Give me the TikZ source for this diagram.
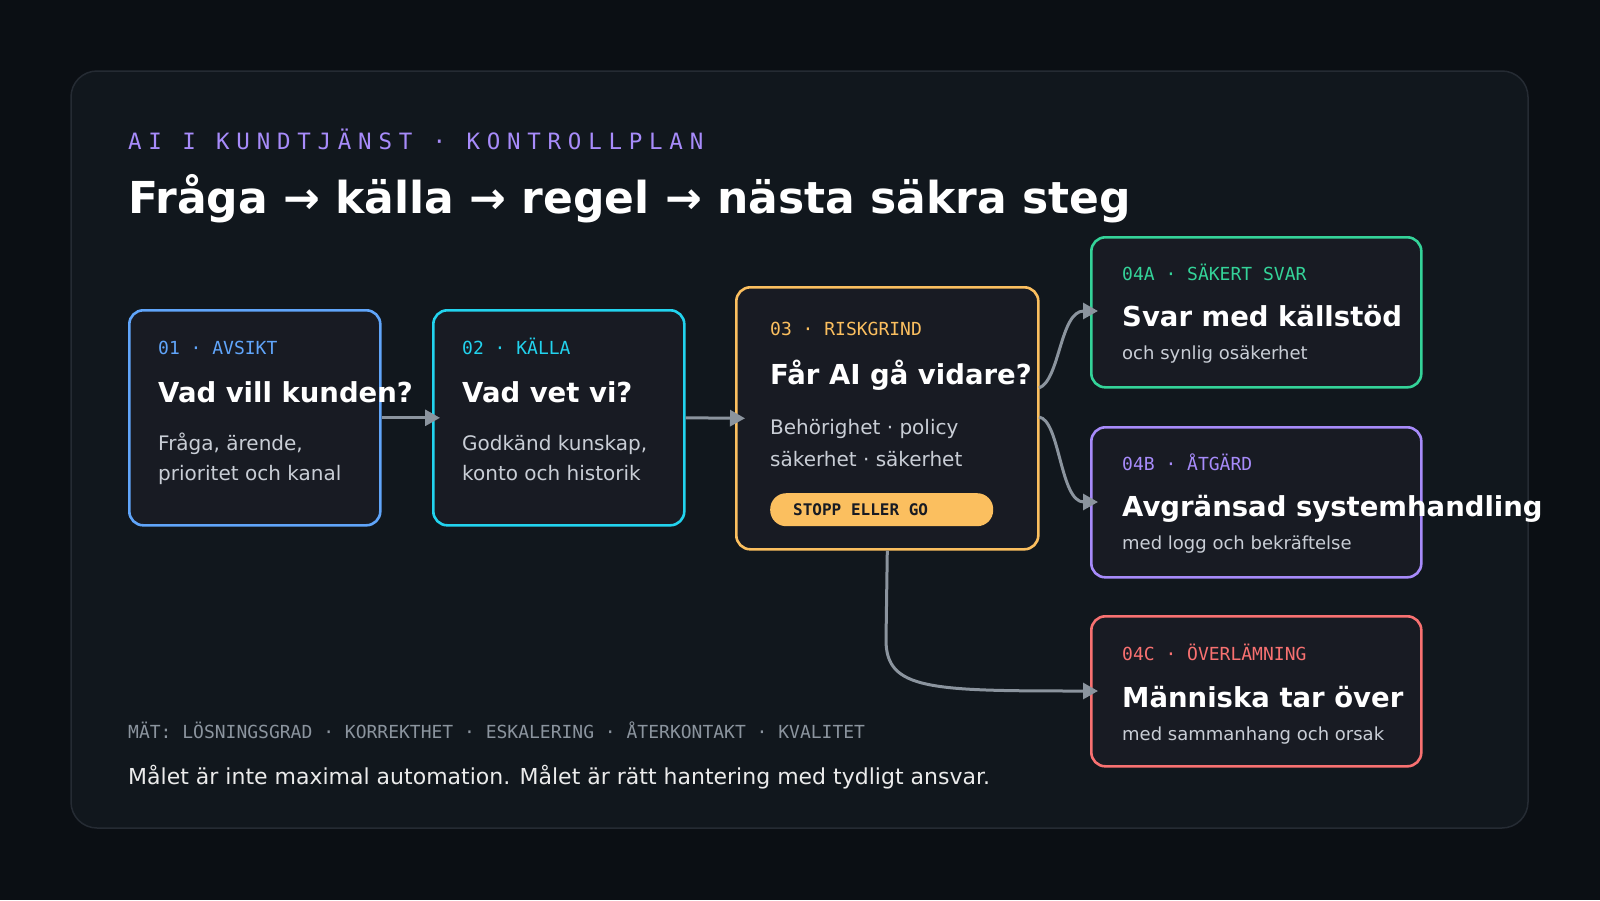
\documentclass[tikz,border=0pt]{standalone}
\usepackage{fontspec}
\setmainfont{DejaVu Sans}
\newfontfamily\mono{DejaVu Sans Mono}
\newfontfamily\kick{DejaVu Sans Mono}[LetterSpace=30]
\usetikzlibrary{arrows.meta,calc}
\definecolor{bg}{HTML}{0B0F14}
\definecolor{card}{HTML}{11171D}
\definecolor{cardb}{HTML}{252B33}
\definecolor{boxf}{HTML}{181B23}
\definecolor{cblue}{HTML}{60A5FA}
\definecolor{ccyan}{HTML}{22D3EE}
\definecolor{corange}{HTML}{FBBF5F}
\definecolor{cgreen}{HTML}{34D399}
\definecolor{cpurple}{HTML}{A78BFA}
\definecolor{cred}{HTML}{F87171}
\definecolor{conn}{HTML}{8B949E}
\definecolor{body}{HTML}{C9CED6}
\definecolor{foot}{HTML}{8B949E}
\begin{document}
\begin{tikzpicture}[x=1pt,y=-1pt,
  box/.style={draw=#1,line width=2.6pt,rounded corners=14pt,fill=boxf,anchor=north west,inner sep=0pt},
  lab/.style={anchor=mid west,inner sep=0pt,yshift=-4pt,text=#1,font=\mono\fontsize{18}{21}\selectfont},
  ttl/.style={anchor=mid west,inner sep=0pt,yshift=-5pt,text=white,font=\bfseries\fontsize{27.5}{32}\selectfont},
  txt/.style={anchor=mid west,inner sep=0pt,yshift=-5pt,text=body,font=\fontsize{20}{24}\selectfont},
  sub/.style={anchor=mid west,inner sep=0pt,yshift=-4pt,text=body,font=\fontsize{18}{22}\selectfont},
  con/.style={draw=conn,line width=3pt,-{Triangle[length=15pt,width=16pt]}}]
\fill[bg] (0,0) rectangle (1600,900);
\useasboundingbox (0,0) rectangle (1600,900);
\draw[fill=card,draw=cardb,line width=1.5pt,rounded corners=26pt] (71,71) rectangle (1528,828);
\node[anchor=mid west,inner sep=0pt,yshift=-6pt,text=cpurple,font=\kick\fontsize{22.5}{26}\selectfont] (kick) at (128,141) {AI I KUNDTJÄNST · KONTROLLPLAN};
\node[anchor=mid west,inner sep=0pt,yshift=-11pt,text=white,font=\bfseries\fontsize{44}{52}\selectfont] (title) at (128,200) {Fråga → källa → regel → nästa säkra steg};
% boxes
\node[box=cblue,minimum width=251pt,minimum height=215pt] (b1) at (128,309) {};
\node[box=ccyan,minimum width=251pt,minimum height=215pt] (b2) at (432,309) {};
\node[box=corange,minimum width=302pt,minimum height=262pt] (b3) at (735,286) {};
\node[box=cgreen,minimum width=330pt,minimum height=150pt] (b4a) at (1090,236) {};
\node[box=cpurple,minimum width=330pt,minimum height=150pt] (b4b) at (1090,426) {};
\node[box=cred,minimum width=330pt,minimum height=150pt] (b4c) at (1090,615) {};
% box 1
\node[lab=cblue] (l1) at (158,348) {01 · AVSIKT};
\node[ttl] (t1) at (158,395) {Vad vill kunden?};
\node[txt] (x1a) at (158,443) {Fråga, ärende,};
\node[txt] (x1b) at (158,473) {prioritet och kanal};
% box 2
\node[lab=ccyan] (l2) at (462,348) {02 · KÄLLA};
\node[ttl] (t2) at (462,395) {Vad vet vi?};
\node[txt] (x2a) at (462,443) {Godkänd kunskap,};
\node[txt] (x2b) at (462,473) {konto och historik};
% box 3
\node[lab=corange] (l3) at (770,329) {03 · RISKGRIND};
\node[ttl] (t3) at (770,377) {Får AI gå vidare?};
\node[txt] (x3a) at (770,427) {Behörighet · policy};
\node[txt] (x3b) at (770,459) {säkerhet · säkerhet};
\node[fill=corange,rounded corners=16pt,minimum width=223pt,minimum height=33pt,inner sep=0pt,anchor=north west] (pill) at (770,493) {};
\node[anchor=mid west,inner sep=0pt,yshift=-3pt,text=boxf,font=\mono\bfseries\fontsize{16}{19}\selectfont] (pt) at (793,510) {STOPP ELLER GO};
% 04A
\node[lab=cgreen] (l4a) at (1122,274) {04A · SÄKERT SVAR};
\node[ttl] (t4a) at (1122,319) {Svar med källstöd};
\node[sub] (s4a) at (1122,353) {och synlig osäkerhet};
% 04B
\node[lab=cpurple] (l4b) at (1122,464) {04B · ÅTGÄRD};
\node[ttl] (t4b) at (1122,509) {Avgränsad systemhandling};
\node[sub] (s4b) at (1122,543) {med logg och bekräftelse};
% 04C
\node[lab=cred] (l4c) at (1122,654) {04C · ÖVERLÄMNING};
\node[ttl] (t4c) at (1122,700) {Människa tar över};
\node[sub] (s4c) at (1122,734) {med sammanhang och orsak};
% footer
\node[anchor=mid west,inner sep=0pt,yshift=-4pt,text=foot,font=\mono\fontsize{18}{21}\selectfont] (m) at (128,732) {MÄT: LÖSNINGSGRAD · KORREKTHET · ESKALERING · ÅTERKONTAKT · KVALITET};
\node[anchor=mid west,inner sep=0pt,yshift=-5pt,text=white!92!black,font=\fontsize{22}{26}\selectfont] (f) at (128,777) {Målet är inte maximal automation. Målet är rätt hantering med tydligt ansvar.};
% connectors
\coordinate (a3) at (1039,388);
\coordinate (a4) at (1039,417);
\coordinate (ta) at (1098,311);
\coordinate (tb) at (1098,502);
\coordinate (tc) at (1098,691);
\draw[con] (b1.east) -- ($(b2.west)+(8,0)$);
\draw[con] (b2.east) -- ($(b3.west)+(10,0)$);
\draw[con] (a3) .. controls (1060,380) and (1060,311) .. (ta);
\draw[con] (a4) .. controls (1060,420) and (1060,502) .. (tb);
\draw[con] (b3.south) -- (886,640) .. controls (886,690) and (930,691) .. (tc);
\end{tikzpicture}
\end{document}
